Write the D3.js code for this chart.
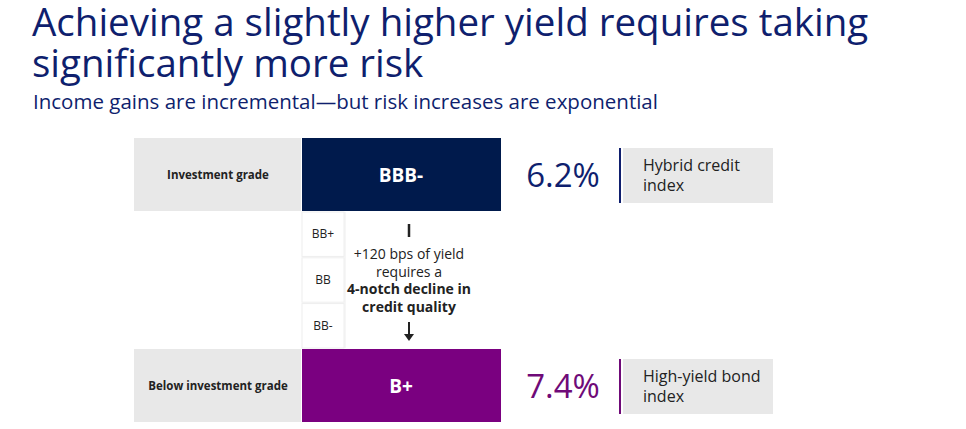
<!DOCTYPE html>
<html><head><meta charset="utf-8">
<script src="https://cdn.jsdelivr.net/npm/d3@7"></script>
<style>body{margin:0;background:#fff}text{font-family:"Open Sans",sans-serif}</style>
</head><body><svg id="c" width="966" height="429"></svg>
<script>
const title = ["Achieving a slightly higher yield requires taking", "significantly more risk"];
const subtitle = "Income gains are incremental\u2014but risk increases are exponential";
const grades = ["Investment grade", "Below investment grade"];
const mainRatings = ["BBB-", "B+"];
const midRatings = ["BB+", "BB", "BB-"];
const yields = [6.2, 7.4];
const indexNames = [["Hybrid credit", "index"], ["High-yield bond", "index"]];
const noteLines = ["+120 bps of yield", "requires a", "4-notch decline in", "credit quality"];
const colors = ["#001a4c", "#7a0080"];
const numColors = ["#0f1f6e", "#6f0a78"];

const svg = d3.select("#c");
svg.selectAll(".t").data(title).join("text").attr("x", 32).attr("y", (d,i)=>36+i*41)
  .attr("font-size", 38.5).attr("fill", "#0f1f6e").text(d=>d);
svg.append("text").attr("x", 33).attr("y", 109).attr("font-size", 20.5).attr("fill", "#0f1f6e").text(subtitle);

const rowY = d3.scalePoint().domain([0,1]).range([138, 349]);
const rowH = 73;
const g = svg.append("g");
grades.forEach((gr,i)=>{
  const y = rowY(i);
  g.append("rect").attr("x",134).attr("y",y).attr("width",167).attr("height",rowH).attr("fill","#e8e8e8");
  g.append("text").attr("x",218).attr("y",y+rowH/2+4).attr("text-anchor","middle").attr("font-size",11.5).attr("font-weight",700).attr("fill","#222").text(gr);
  g.append("rect").attr("x",302).attr("y",y).attr("width",199).attr("height",rowH).attr("fill",colors[i]);
  g.append("text").attr("x",401).attr("y",y+rowH/2+7).attr("text-anchor","middle").attr("font-size",19).attr("font-weight",700).attr("fill","#fff").text(mainRatings[i]);
  g.append("text").attr("x",563).attr("y",y+rowH/2+12).attr("text-anchor","middle").attr("font-size",33).attr("fill",numColors[i]).text(yields[i].toFixed(1)+"%");
  g.append("rect").attr("x",619).attr("y",y+10).attr("width",2).attr("height",55).attr("fill",numColors[i]);
  g.append("rect").attr("x",623).attr("y",y+10).attr("width",150).attr("height",55).attr("fill","#e8e8e8");
  indexNames[i].forEach((t,j)=>g.append("text").attr("x",643).attr("y",y+33+j*20).attr("font-size",16).attr("fill","#222").text(t));
});
const cellY = d3.scaleBand().domain(midRatings).range([212, 348]).paddingInner(0.03);
midRatings.forEach(r=>{
  g.append("rect").attr("x",302).attr("y",cellY(r)).attr("width",42).attr("height",cellY.bandwidth()).attr("fill","#fff").attr("stroke","#eee");
  g.append("text").attr("x",323).attr("y",cellY(r)+cellY.bandwidth()/2+4).attr("text-anchor","middle").attr("font-size",12).attr("fill","#222").text(r);
});
g.append("line").attr("x1",345).attr("x2",345).attr("y1",212).attr("y2",348).attr("stroke","#eee");
g.append("line").attr("x1",409).attr("x2",409).attr("y1",224).attr("y2",237).attr("stroke","#222").attr("stroke-width",2.5);
noteLines.forEach((t,j)=>g.append("text").attr("x",409).attr("y",259+j*17.5).attr("text-anchor","middle").attr("font-size",14)
  .attr("font-weight",j>=2?700:400).attr("fill","#222").text(t));
g.append("line").attr("x1",409).attr("x2",409).attr("y1",322).attr("y2",335).attr("stroke","#222").attr("stroke-width",2);
g.append("path").attr("d","M404,334 L414,334 L409,341 Z").attr("fill","#222");
</script></body></html>
